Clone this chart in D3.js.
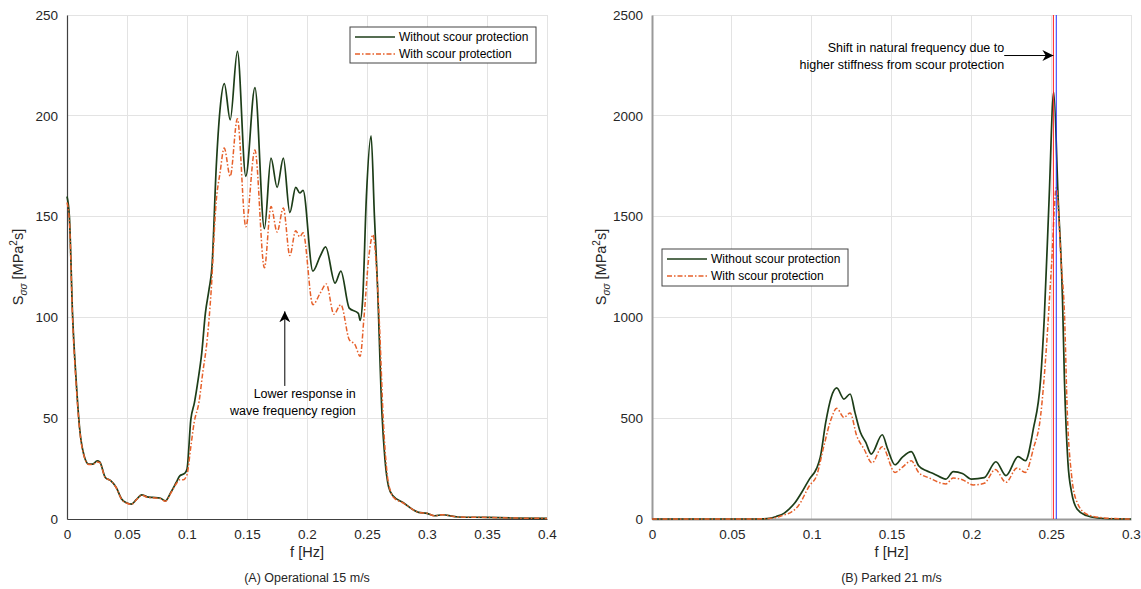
<!DOCTYPE html>
<html>
<head>
<meta charset="utf-8">
<script src="https://cdn.jsdelivr.net/npm/d3@7"></script>
<style>
  html, body { margin: 0; padding: 0; background: #fff; }
  svg { display: block; font-family: "Liberation Sans", Arial, Helvetica, sans-serif; }
</style>
</head>
<body>
<svg id="chart" width="1141" height="589"></svg>
<script>
// ---------------- DATA ----------------
// Panel A: Operational 15 m/s
const freqA_without = [0, 0.002, 0.0046, 0.0076, 0.0106, 0.0143, 0.0182, 0.0212, 0.0252, 0.0273, 0.0319, 0.0364, 0.041, 0.0455, 0.05, 0.0537, 0.0577, 0.0622, 0.0668, 0.0713, 0.0774, 0.082, 0.0865, 0.091, 0.094, 0.098, 0.1, 0.1032, 0.1062, 0.1093, 0.1123, 0.1153, 0.1184, 0.1208, 0.1244, 0.1275, 0.1311, 0.136, 0.142, 0.149, 0.1566, 0.1645, 0.170, 0.1751, 0.1803, 0.1857, 0.1906, 0.194, 0.1967, 0.2049, 0.211, 0.2155, 0.2234, 0.2282, 0.2352, 0.2428, 0.2443, 0.2464, 0.2495, 0.2534, 0.2562, 0.2586, 0.2625, 0.2649, 0.268, 0.2716, 0.28, 0.293, 0.3, 0.3065, 0.3126, 0.326, 0.35, 0.37, 0.4];
const sA_without    = [160, 150, 102, 69, 44.5, 31.3, 27.2, 27.2, 28.8, 28.3, 20.6, 19, 15.7, 9.9, 7.9, 7.4, 9.6, 12, 11, 10.7, 10.4, 9, 13.2, 18.1, 21.4, 22.6, 24.7, 49.4, 57.7, 69.2, 82.4, 102, 114, 125, 175, 203, 216, 198, 232, 170, 214, 144, 179, 164.5, 179, 152, 164.5, 161.7, 163, 123, 130.4, 135, 117, 123, 104.6, 102, 98.5, 109, 160, 190, 150, 118, 52, 30, 16, 11.5, 8.2, 3.3, 2.8, 1.6, 2.1, 1, 0.8, 0.5, 0.3];

const freqA_with = [0, 0.002, 0.0046, 0.0076, 0.0106, 0.0143, 0.0182, 0.0212, 0.0252, 0.0273, 0.0319, 0.0364, 0.041, 0.0455, 0.05, 0.0537, 0.0577, 0.0622, 0.0668, 0.0713, 0.0774, 0.082, 0.0865, 0.091, 0.094, 0.097, 0.1, 0.103, 0.106, 0.11, 0.113, 0.117, 0.12, 0.1244, 0.1275, 0.131, 0.136, 0.142, 0.149, 0.1566, 0.1645, 0.170, 0.1751, 0.1803, 0.1857, 0.1906, 0.194, 0.1967, 0.2049, 0.211, 0.2161, 0.2224, 0.2282, 0.2352, 0.24, 0.2443, 0.2475, 0.2515, 0.255, 0.2575, 0.2605, 0.2635, 0.2665, 0.27, 0.2725, 0.28, 0.293, 0.3, 0.3065, 0.3126, 0.326, 0.35, 0.37, 0.4];
const sA_with    = [157, 148, 100, 67, 44, 31, 27, 27, 28.3, 28, 20.5, 19, 15.5, 9.8, 7.8, 7.3, 9.4, 11.8, 10.8, 10.5, 10.2, 8.8, 12.8, 17.5, 19.5, 19.5, 22, 35, 48, 58, 72, 90, 112, 158, 171.6, 184, 170, 198.5, 145, 183, 124.6, 155, 142.4, 154.3, 130.7, 143, 140, 142, 106.3, 112, 116.6, 101.6, 106.3, 89, 86.5, 80.7, 100, 130, 141, 128, 95, 50, 24, 13, 10.5, 8, 3.3, 2.8, 1.6, 2.1, 1, 0.8, 0.5, 0.3];

// Panel B: Parked 21 m/s
const freqB_without = [0, 0.06, 0.07, 0.0735, 0.078, 0.0826, 0.086, 0.0894, 0.094, 0.0986, 0.1031, 0.1054, 0.1088, 0.1122, 0.1157, 0.1202, 0.1241, 0.1271, 0.1305, 0.1339, 0.1373, 0.1442, 0.1476, 0.1522, 0.1567, 0.1624, 0.167, 0.1716, 0.1761, 0.1841, 0.1887, 0.1944, 0.2001, 0.2081, 0.2154, 0.2217, 0.2293, 0.2338, 0.2388, 0.2434, 0.2457, 0.2487, 0.2516, 0.2544, 0.2571, 0.2583, 0.2605, 0.2628, 0.2662, 0.272, 0.279, 0.29, 0.3];
const sB_without    = [0, 0, 1, 3, 13, 28, 50, 79, 135, 198, 251, 306, 479, 603, 650, 595, 620, 529, 430, 380, 322, 418, 347, 269, 306, 334, 264, 240, 226, 198, 235, 226, 198, 205, 284, 215, 309, 289, 446, 694, 1000, 1586, 2118, 1586, 1091, 694, 281, 132, 50, 17, 5, 1, 0];

const freqB_with = [0, 0.06, 0.07, 0.078, 0.0826, 0.087, 0.0917, 0.0986, 0.1031, 0.1077, 0.1122, 0.1157, 0.1202, 0.1241, 0.1282, 0.1328, 0.1378, 0.1442, 0.1522, 0.1567, 0.1624, 0.167, 0.1738, 0.1841, 0.1887, 0.1944, 0.2012, 0.2081, 0.215, 0.2217, 0.2286, 0.2338, 0.2388, 0.2434, 0.2468, 0.2502, 0.2532, 0.2564, 0.2583, 0.2601, 0.2628, 0.2662, 0.272, 0.281, 0.29, 0.3];
const sB_with    = [0, 0, 1, 8, 20, 33, 66, 165, 215, 364, 496, 549, 504, 526, 413, 347, 278, 359, 231, 256, 289, 231, 203, 174, 203, 195, 169, 177, 245, 182, 253, 231, 347, 512, 826, 1256, 1643, 1256, 1025, 529, 215, 83, 25, 7, 2, 0];

// Natural frequency markers (panel B)
const natFreqWithout = 0.2514;
const natFreqWith = 0.2532;

// Axis ticks
const xTicksA = [0, 0.05, 0.1, 0.15, 0.2, 0.25, 0.3, 0.35, 0.4];
const yTicksA = [0, 50, 100, 150, 200, 250];
const xTicksB = [0, 0.05, 0.1, 0.15, 0.2, 0.25, 0.3];
const yTicksB = [0, 500, 1000, 1500, 2000, 2500];

const seriesNames = ["Without scour protection", "With scour protection"];
const panelTitles = ["(A) Operational 15 m/s", "(B) Parked 21 m/s"];

// ---------------- STYLE ----------------
const GREEN = "#1d3d18";
const ORANGE = "#e6602a";
const GRID = "#e3e3e3";
const TEXT = "#262626";
const DASH = "5,2,1.5,2";

const svg = d3.select("#chart");

const defs = svg.append("defs");
defs.append("marker")
  .attr("id", "arrowhead")
  .attr("viewBox", "0 0 10 10")
  .attr("refX", 10).attr("refY", 5)
  .attr("markerWidth", 11).attr("markerHeight", 11)
  .attr("markerUnits", "userSpaceOnUse")
  .attr("orient", "auto")
  .append("path")
  .attr("d", "M0,0 L10,5 L0,10 L3,5 Z")
  .attr("fill", "#000");

function drawPanel(cfg) {
  const g = svg.append("g");
  const x = d3.scaleLinear().domain(cfg.xDomain).range([cfg.left, cfg.right]);
  const y = d3.scaleLinear().domain(cfg.yDomain).range([cfg.bottom, cfg.top]);

  // grid
  g.append("g").selectAll("line").data(cfg.xTicks).join("line")
    .attr("x1", d => x(d)).attr("x2", d => x(d))
    .attr("y1", cfg.top).attr("y2", cfg.bottom)
    .attr("stroke", GRID).attr("stroke-width", 1).attr("shape-rendering", "crispEdges");
  g.append("g").selectAll("line").data(cfg.yTicks).join("line")
    .attr("y1", d => y(d)).attr("y2", d => y(d))
    .attr("x1", cfg.left).attr("x2", cfg.right)
    .attr("stroke", GRID).attr("stroke-width", 1).attr("shape-rendering", "crispEdges");

  // axes
  const xAxis = d3.axisBottom(x).tickValues(cfg.xTicks).tickSize(0).tickPadding(10)
    .tickFormat(d => String(d));
  const yAxis = d3.axisLeft(y).tickValues(cfg.yTicks).tickSize(0).tickPadding(9)
    .tickFormat(d => String(d));
  const gx = g.append("g").attr("transform", `translate(0,${cfg.bottom})`).call(xAxis);
  const gy = g.append("g").attr("transform", `translate(${cfg.left},0)`).call(yAxis);
  [gx, gy].forEach(a => {
    a.select(".domain").attr("stroke", cfg.axisColor).attr("stroke-width", cfg.axisWidth);
    a.selectAll("text").attr("fill", TEXT).style("font-size", "13.5px")
      .style("font-family", '"Liberation Sans", Arial, sans-serif');
  });

  // lines
  const line = d3.line().x(d => x(d[0])).y(d => y(d[1])).curve(d3.curveMonotoneX);
  g.append("path").datum(d3.zip(cfg.f1, cfg.s1))
    .attr("d", line).attr("fill", "none").attr("stroke", GREEN).attr("stroke-width", 1.7);
  g.append("path").datum(d3.zip(cfg.f2, cfg.s2))
    .attr("d", line).attr("fill", "none").attr("stroke", ORANGE).attr("stroke-width", 1.5)
    .attr("stroke-dasharray", DASH);

  // vertical markers
  if (cfg.vlines) {
    cfg.vlines.forEach(v => {
      g.append("line").attr("x1", x(v.f)).attr("x2", x(v.f))
        .attr("y1", cfg.top).attr("y2", cfg.bottom)
        .attr("stroke", v.color).attr("stroke-width", 1);
    });
  }

  // x label
  g.append("text").attr("x", (cfg.left + cfg.right) / 2).attr("y", 557)
    .attr("text-anchor", "middle").attr("fill", TEXT).style("font-size", "14.5px")
    .text("f [Hz]");
  // panel title
  g.append("text").attr("x", (cfg.left + cfg.right) / 2).attr("y", 582)
    .attr("text-anchor", "middle").attr("fill", TEXT).style("font-size", "12.5px")
    .text(cfg.title);

  // y label
  const yl = g.append("text")
    .attr("transform", `translate(${cfg.ylabelX},${(cfg.top + cfg.bottom) / 2}) rotate(-90)`)
    .attr("text-anchor", "middle").attr("fill", TEXT).style("font-size", "14.5px");
  yl.append("tspan").text("S");
  yl.append("tspan").attr("dy", 4).style("font-size", "10px").style("font-style", "italic").text("σσ");
  yl.append("tspan").attr("dy", -4).text(" [MPa");
  yl.append("tspan").attr("dy", -6).style("font-size", "10px").text("2");
  yl.append("tspan").attr("dy", 6).text("s]");

  // legend
  const L = cfg.legend;
  const lg = g.append("g").attr("transform", `translate(${L.x},${L.y})`);
  lg.append("rect").attr("width", L.w).attr("height", L.h)
    .attr("fill", "#fff").attr("stroke", "#444").attr("stroke-width", 1);
  [[GREEN, null, 1.7], [ORANGE, DASH, 1.5]].forEach((s, i) => {
    const yy = 10 + i * 17;
    lg.append("line").attr("x1", 5).attr("x2", 45).attr("y1", yy).attr("y2", yy)
      .attr("stroke", s[0]).attr("stroke-width", s[2]).attr("stroke-dasharray", s[1]);
    lg.append("text").attr("x", 49).attr("y", yy + 4.3).attr("fill", "#000")
      .style("font-size", "12px").text(seriesNames[i]);
  });

  // annotation
  const A = cfg.annot;
  g.append("line")
    .attr("x1", x(A.from[0])).attr("y1", y(A.from[1]))
    .attr("x2", x(A.to[0])).attr("y2", y(A.to[1]))
    .attr("stroke", "#000").attr("stroke-width", 1)
    .attr("marker-end", "url(#arrowhead)");
  A.lines.forEach((t, i) => {
    g.append("text").attr("x", x(A.textX)).attr("y", y(A.textY) + i * 17)
      .attr("text-anchor", "end").attr("fill", "#000").style("font-size", "12.5px").text(t);
  });
}

drawPanel({
  left: 67, right: 547, top: 15, bottom: 519,
  xDomain: [0, 0.4], yDomain: [0, 250],
  xTicks: xTicksA, yTicks: yTicksA,
  f1: freqA_without, s1: sA_without, f2: freqA_with, s2: sA_with,
  axisColor: "#404040", axisWidth: 1.2,
  ylabelX: 23,
  title: panelTitles[0],
  legend: { x: 350, y: 27, w: 186, h: 36 },
  annot: { from: [0.1815, 66], to: [0.1815, 103], textX: 0.2407, textY: 60,
           lines: ["Lower response in", "wave frequency region"] }
});

drawPanel({
  left: 652, right: 1131, top: 15, bottom: 519,
  xDomain: [0, 0.3], yDomain: [0, 2500],
  xTicks: xTicksB, yTicks: yTicksB,
  f1: freqB_without, s1: sB_without, f2: freqB_with, s2: sB_with,
  axisColor: "#999", axisWidth: 2,
  ylabelX: 606,
  title: panelTitles[1],
  legend: { x: 662, y: 249, w: 186, h: 37 },
  vlines: [{ f: natFreqWith, color: "#2030ff" }, { f: natFreqWithout, color: "#ff2020" }],
  annot: { from: [0.2206, 2299], to: [natFreqWithout, 2299], textX: 0.2206, textY: 2318,
           lines: ["Shift in natural frequency due to", "higher stiffness from scour protection"] }
});
</script>
</body>
</html>
